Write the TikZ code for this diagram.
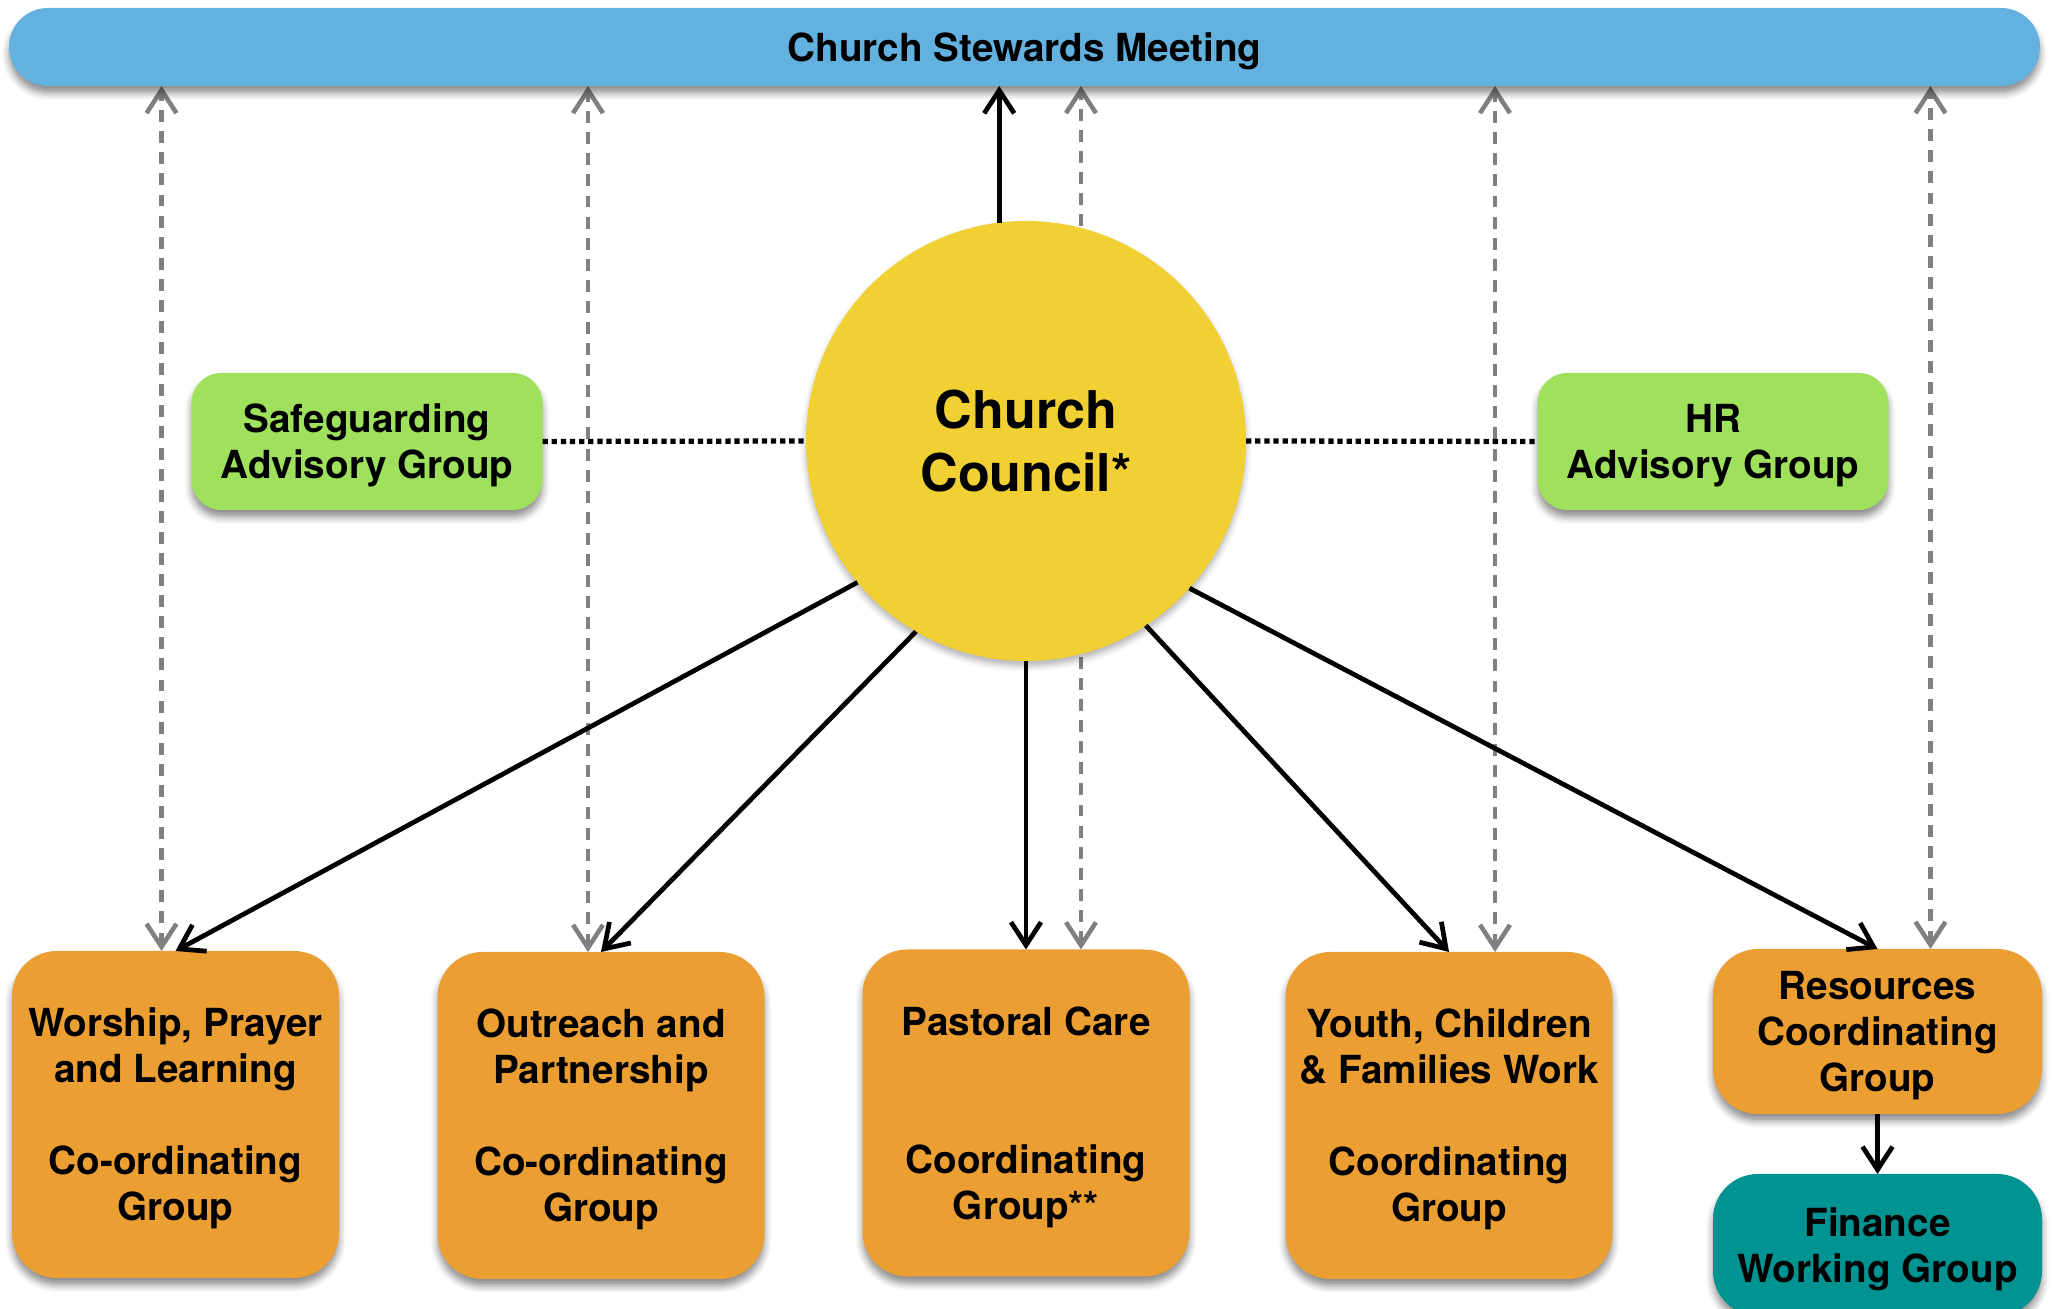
\documentclass[tikz,border=0pt]{standalone}
\usepackage{fontspec}
\setmainfont{TeX Gyre Heros}
\usetikzlibrary{arrows.meta,shadows.blur,backgrounds}

\definecolor{barblue}{HTML}{63B1DE}
\definecolor{councilyellow}{HTML}{F0D032}
\definecolor{advisegreen}{HTML}{9FE05C}
\definecolor{grouporange}{HTML}{EB9F33}
\definecolor{financeteal}{HTML}{009391}
\definecolor{linkgrey}{HTML}{808080}

\tikzset{
  box/.style={rectangle, inner sep=0pt, outer sep=0pt, align=center, text depth=0pt,
    font=\bfseries\fontsize{11}{13.1}\selectfont,
    blur shadow={shadow xshift=0pt, shadow yshift=-0.07cm,
      shadow blur radius=0.07cm, shadow opacity=45}},
  advisory/.style={box, fill=advisegreen, rounded corners=0.3cm,
    minimum width=3.51cm, minimum height=1.37cm},
  cgroup/.style={box, fill=grouporange, rounded corners=0.45cm,
    minimum width=3.27cm, minimum height=3.27cm},
  smallgroup/.style={box, rounded corners=0.45cm, minimum width=3.29cm},
  ctrl/.style={-{Straight Barb[length=2.3mm,width=3mm]}, line width=1.35pt},
  link/.style={{Straight Barb[length=2.3mm,width=3mm]}-{Straight Barb[length=2.3mm,width=3mm]},
    draw=linkgrey, line width=1.3pt, dash pattern=on 3.4pt off 2.6pt},
  assoc/.style={line width=1.5pt, dash pattern=on 1.5pt off 1.1pt}
}

\begin{document}
\begin{tikzpicture}
  \useasboundingbox (0,0) rectangle (20.52,-13.09);

  % top bar and the council
  \node[box, fill=barblue, rounded corners=0.39cm, minimum width=20.31cm,
    minimum height=0.78cm] (stewards) at (10.245,-0.47) {Church Stewards Meeting};
  \node[circle, fill=councilyellow, minimum size=4.4cm, inner sep=0pt, outer sep=0pt,
    align=center, font=\bfseries\fontsize{14.8}{17.8}\selectfont,
    blur shadow={shadow xshift=0pt, shadow yshift=-0.05cm, shadow blur radius=0.06cm, shadow opacity=30}]
    (council) at (10.26,-4.41) {Church\\Council*};

  % advisory groups
  \node[advisory] (safeguard) at (3.67,-4.415) {Safeguarding\\Advisory Group};
  \node[advisory] (hr) at (17.13,-4.415) {HR\\Advisory Group};

  % coordinating groups
  \node[cgroup] (worship) at (1.755,-11.145) {Worship, Prayer\\and Learning\\~\\Co-ordinating\\Group};
  \node[cgroup] (outreach) at (6.01,-11.155) {Outreach and\\Partnership\\~\\Co-ordinating\\Group};
  \node[cgroup] (pastoral) at (10.26,-11.13) {Pastoral Care\\~\\~\\Coordinating\\Group**};
  \node[cgroup] (youth) at (14.49,-11.155) {Youth, Children\\\& Families Work\\~\\Coordinating\\Group};
  \node[smallgroup, fill=grouporange, minimum height=1.65cm] (resources) at (18.775,-10.315)
    {Resources\\Coordinating\\Group};
  \node[smallgroup, fill=financeteal, minimum height=1.42cm] (finance) at (18.775,-12.45)
    {Finance\\Working Group};

  % reporting links to the stewards
  \begin{scope}[on background layer]
    \draw[link] ([xshift=-0.14cm]worship.north) -- ([xshift=-0.14cm]worship.north |- stewards.south);
    \draw[link] ([xshift=-0.13cm]outreach.north) -- ([xshift=-0.13cm]outreach.north |- stewards.south);
    \draw[link] ([xshift=0.55cm]pastoral.north) -- ([xshift=0.55cm]pastoral.north |- stewards.south);
    \draw[link] ([xshift=0.46cm]youth.north) -- ([xshift=0.46cm]youth.north |- stewards.south);
    \draw[link] ([xshift=0.53cm]resources.north) -- ([xshift=0.53cm]resources.north |- stewards.south);
  \end{scope}

  \draw[ctrl] (council.97.3) -- (council.97.3 |- stewards.south);
  \draw[assoc] (safeguard.east) -- (council.west);
  \draw[assoc] (council.east) -- (hr.west);

  % council to the groups
  \draw[ctrl] (council.220.9) -- (worship.north);
  \draw[ctrl] (council.240.6) -- (outreach.north);
  \draw[ctrl] (council.south) -- (pastoral.north);
  \draw[ctrl] (council.303.3) -- (youth.north);
  \draw[ctrl] (council.318.7) -- (resources.north);
  \draw[ctrl] (resources.south) -- (finance.north);
\end{tikzpicture}
\end{document}
